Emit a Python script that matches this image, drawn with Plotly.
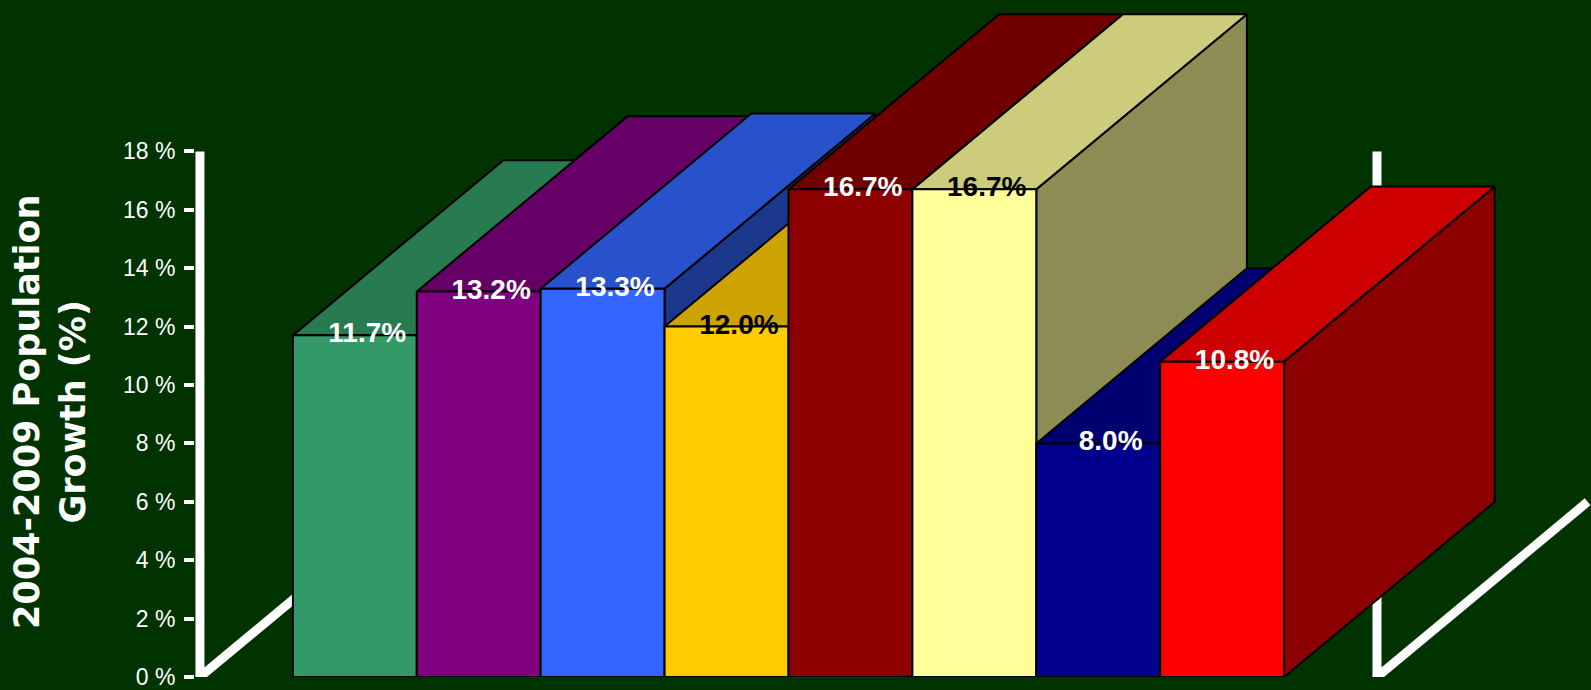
import plotly.graph_objects as go

# Five-year population growth per bar (percent)
growth = [11.7, 13.2, 13.3, 12.0, 16.7, 16.7, 8.0, 10.8]
bar_colors = ["#339966", "#800080", "#3366FF", "#FFCC00",
              "#8C0000", "#FFFF99", "#00008C", "#FF0000"]
label_colors = ["white", "white", "white", "black",
                "white", "black", "white", "white"]
tick_values = [0, 2, 4, 6, 8, 10, 12, 14, 16, 18]
tick_labels = ["0 %", "2 %", "4 %", "6 %", "8 %", "10 %", "12 %", "14 %", "16 %", "18 %"]
y_title = "2004-2009 Population<br>Growth (%)"

BG = "#003300"
DX, DY = 1.7, 6.0          # receding depth of the 3-D bars (x units, percentage points)
TOP_SHADE, SIDE_SHADE = 0.8, 0.55
FRAME_LEFT, FRAME_RIGHT = -1.25, 8.25

PX_PER_X, PX_PER_Y = 123.9, 29.2
W, H = 1591, 690
ML, MB = 195, 13
x_lo = -1.29
x_hi = x_lo + (W - ML) / PX_PER_X
y_hi = (H - MB) / PX_PER_Y


def shade(hex_color, f):
    h = hex_color.lstrip("#")
    r, g, b = (int(h[k:k + 2], 16) for k in (0, 2, 4))
    return f"rgb({int(r * f)},{int(g * f)},{int(b * f)})"


fig = go.Figure()

# white frame: value axis and floor edges, drawn beneath the bars
for xf in (FRAME_LEFT, FRAME_RIGHT):
    fig.add_trace(go.Scatter(
        x=[xf, xf, xf + DX], y=[tick_values[-1], 0, DY],
        mode="lines", line=dict(color="white", width=9),
        hoverinfo="skip", showlegend=False))

# bars painted left to right: right side, top, then front face
for i, (v, c) in enumerate(zip(growth, bar_colors)):
    x0, x1 = i - 0.5, i + 0.5
    faces = [
        ([x1, x1 + DX, x1 + DX, x1, x1], [0, DY, v + DY, v, 0], shade(c, SIDE_SHADE)),
        ([x0, x1, x1 + DX, x0 + DX, x0], [v, v, v + DY, v + DY, v], shade(c, TOP_SHADE)),
        ([x0, x1, x1, x0, x0], [0, 0, v, v, 0], c),
    ]
    for xs, ys, col in faces:
        fig.add_trace(go.Scatter(
            x=xs, y=ys, fill="toself", fillcolor=col, mode="lines",
            line=dict(color="black", width=2),
            hoverinfo="skip", showlegend=False))

# value labels at the top edge of each front face
fig.add_trace(go.Scatter(
    x=[i + 0.1 for i in range(len(growth))], y=growth,
    mode="text", text=[f"{v:.1f}%" for v in growth],
    textposition="middle center",
    textfont=dict(family="Liberation Sans", size=28, color=label_colors, weight="bold"),
    hoverinfo="skip", showlegend=False))

fig.add_annotation(
    text=y_title, xref="paper", yref="paper",
    x=(50 - ML) / (W - ML), y=(H - MB - 412) / (H - MB),
    xanchor="center", yanchor="middle", textangle=-90, showarrow=False,
    font=dict(family="DejaVu Sans", size=35, color="white", weight="bold"))

fig.update_layout(
    width=W, height=H,
    margin=dict(l=ML, r=0, t=0, b=MB, pad=0),
    paper_bgcolor=BG, plot_bgcolor=BG,
    showlegend=False,
    xaxis=dict(range=[x_lo, x_hi], visible=False, fixedrange=True),
    yaxis=dict(
        range=[0, y_hi], tickmode="array", tickvals=tick_values, ticktext=tick_labels,
        ticks="outside", ticklen=10, tickwidth=4, tickcolor="white",
        ticklabelstandoff=4, ticklabeloverflow="allow",
        tickfont=dict(family="Liberation Sans", size=23, color="white"),
        showgrid=False, zeroline=False, showline=False, fixedrange=True),
)

fig.write_html("out.html")
